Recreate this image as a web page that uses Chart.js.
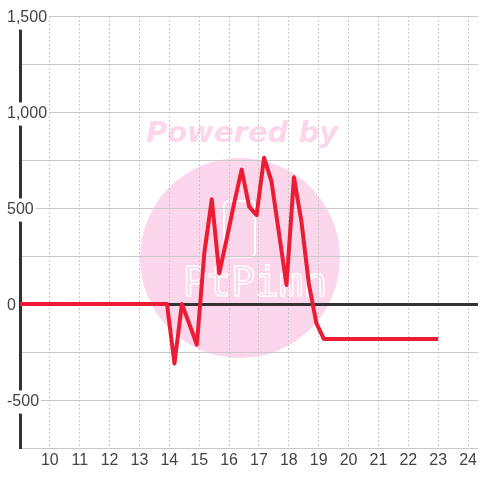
<!DOCTYPE html>
<html>
<head>
<meta charset="utf-8">
<script src="https://cdn.jsdelivr.net/npm/chart.js@4.4.1/dist/chart.umd.min.js"></script>
<style>
  html, body { margin: 0; padding: 0; background: #fff; }
  #wrap { width: 480px; height: 480px; }
</style>
</head>
<body>
<div id="wrap"><canvas id="c"></canvas></div>
<script>
// decimal hours on the x axis
const hours = [8.92, 13.92, 14.17, 14.42, 14.67, 14.92, 15.17, 15.42, 15.67, 15.92, 16.17, 16.42,
  16.67, 16.92, 17.17, 17.42, 17.67, 17.92, 18.17, 18.42, 18.67, 18.92, 19.17, 23.0];
const values = [0, 0, -310, 0, -105, -212, 265, 545, 160, 340, 525, 700,
  507, 463, 762, 637, 368, 99, 660, 430, 105, -100, -182, -182];
const xTicks = [10, 11, 12, 13, 14, 15, 16, 17, 18, 19, 20, 21, 22, 23, 24];
const yLabelled = [-500, 0, 500, 1000, 1500];

// pink "Powered by" watermark behind the grid
const watermark = {
  id: 'watermark',
  beforeDraw(chart) {
    const ctx = chart.ctx;
    ctx.save();
    ctx.fillStyle = '#fcd6ea';
    ctx.beginPath();
    ctx.arc(240, 258, 100, 0, Math.PI * 2);
    ctx.fill();
    ctx.font = 'bold italic 29px "DejaVu Sans"';
    ctx.textAlign = 'center';
    ctx.textBaseline = 'middle';
    ctx.fillText('Powered by', 242, 134);
    ctx.strokeStyle = '#fff';
    ctx.lineWidth = 2;
    ctx.beginPath();
    ctx.roundRect(224, 201, 31, 56, 5);
    ctx.stroke();
    ctx.lineWidth = 1.5;
    ctx.font = '40px "DejaVu Sans Mono"';
    ctx.strokeText('PtPimn', 255, 286);
    ctx.restore();
  }
};

new Chart(document.getElementById('c'), {
  type: 'line',
  data: {
    datasets: [{
      data: hours.map((h, i) => ({ x: h, y: values[i] })),
      borderColor: '#ec1c34',
      borderWidth: 4,
      borderJoinStyle: 'round',
      pointRadius: 0,
      tension: 0,
      fill: false
    }]
  },
  options: {
    responsive: true,
    maintainAspectRatio: false,
    animation: false,
    layout: { padding: { top: 16, left: 5, right: 0, bottom: 0 } },
    plugins: { legend: { display: false }, tooltip: { enabled: false } },
    scales: {
      x: {
        type: 'linear',
        min: 9,
        max: 24.33,
        afterBuildTicks: (s) => { s.ticks = xTicks.map(v => ({ value: v })); },
        afterFit: (s) => { s.height = 32; },
        grid: { color: '#c8c8c8', lineWidth: 1, drawTicks: false },
        border: { display: true, color: '#c8c8c8', width: 1, dash: [2, 2] },
        ticks: {
          padding: 3,
          color: '#444',
          font: { family: '"Liberation Sans", Arial, sans-serif', size: 16 },
          maxRotation: 0
        }
      },
      y: {
        min: -750,
        max: 1500,
        afterFit: (s) => { s.width = 15; },
        grid: {
          drawTicks: false,
          color: (c) => c.tick && c.tick.value === 0 ? '#333' : '#c8c8c8',
          lineWidth: (c) => c.tick && c.tick.value === 0 ? 3 : 1
        },
        border: { display: true, color: '#333', width: 3 },
        ticks: {
          stepSize: 250,
          mirror: true,
          padding: -13,
          labelOffset: 2,
          color: '#444',
          font: { family: '"Liberation Sans", Arial, sans-serif', size: 16 },
          showLabelBackdrop: true,
          backdropColor: '#fff',
          backdropPadding: 2,
          callback: (v) => yLabelled.includes(v) ? v.toLocaleString('en-US') : ''
        }
      }
    }
  },
  plugins: [watermark]
});
</script>
</body>
</html>
